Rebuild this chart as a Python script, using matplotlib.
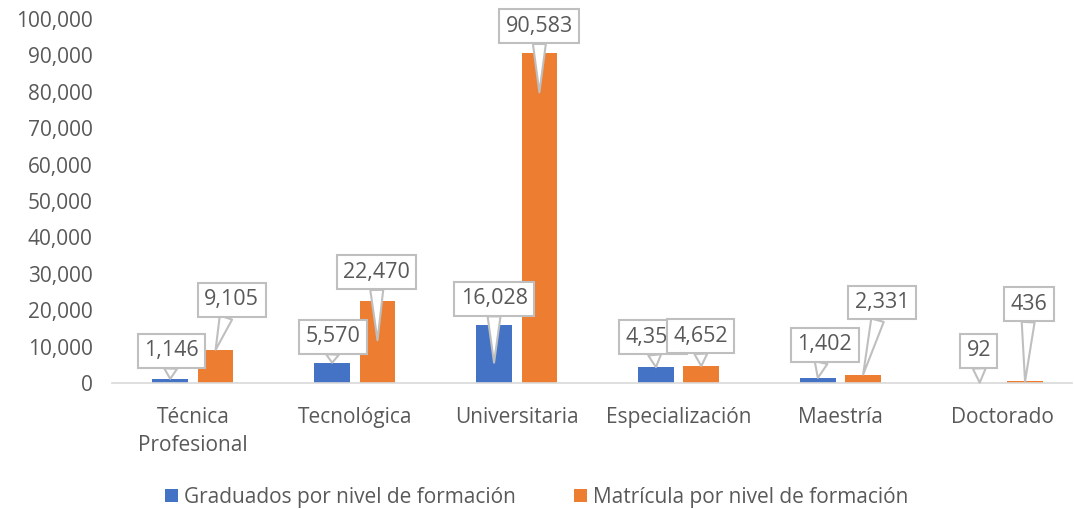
import matplotlib
matplotlib.use('Agg')
import matplotlib.pyplot as plt
import matplotlib.transforms as mtransforms
import numpy as np

plt.rcParams['font.family'] = ['Open Sans', 'DejaVu Sans']

categories = ['Técnica\nProfesional', 'Tecnológica', 'Universitaria',
              'Especialización', 'Maestría', 'Doctorado']
graduados = [1146, 5570, 16028, 4354, 1402, 92]
matricula = [9105, 22470, 90583, 4652, 2331, 436]
series_names = ['Graduados por nivel de formación', 'Matrícula por nivel de formación']

BLUE = '#4472c4'
ORANGE = '#ed7d31'
TEXT = '#595959'

# callout placement, pixels: (dx, dy) of text from tip, and how far the tip sits inside the bar
grad_offsets = [(1, 28), (1, 26), (0, 64), (-3, 30), (7, 33), (-1, 32)]
grad_drops = [0, 0, 38, 0, 0, 0]
mat_offsets = [(16, 50), (-1, 68), (0, 66), (-1, 30), (19, 72), (4, 77)]
mat_drops = [0, 39, 39, 0, 0, 0]

fig = plt.figure(figsize=(10.74, 5.09), dpi=100)
ax = fig.add_axes([112 / 1074, 0.2475, 960 / 1074, 0.7152])

x = np.arange(len(categories))
w = 0.22
off = 0.14
ax.bar(x - off, graduados, w, color=BLUE, label=series_names[0], zorder=2)
ax.bar(x + off, matricula, w, color=ORANGE, label=series_names[1], zorder=2)

ax.set_xlim(-0.5, 5.43)
ax.set_ylim(0, 100000)
ax.set_yticks(np.arange(0, 100001, 10000))
ax.set_yticklabels([f'{v:,}' for v in range(0, 100001, 10000)])
ax.set_xticks(x)
ax.set_xticklabels(categories, linespacing=1.45)
ax.tick_params(axis='y', length=0, pad=14, labelsize=15, labelcolor=TEXT)
ax.tick_params(axis='x', length=0, pad=17, labelsize=15, labelcolor=TEXT)
for s in ['top', 'right', 'left']:
    ax.spines[s].set_visible(False)
ax.spines['bottom'].set_color('#d9d9d9')
ax.spines['bottom'].set_linewidth(1.2)


def callout(xpos, val, offset, drop):
    tr = ax.transData + mtransforms.ScaledTranslation(0, -drop / 100, fig.dpi_scale_trans)
    ax.annotate(f'{val:,}', xy=(xpos, val), xycoords=tr,
                xytext=offset, textcoords='offset pixels',
                ha='center', va='center', fontsize=15.5, color=TEXT, zorder=5,
                bbox=dict(boxstyle='square,pad=0.3', fc='white', ec='#bfbfbf', lw=1.5),
                arrowprops=dict(arrowstyle='wedge,tail_width=0.6', fc='white',
                                ec='#bfbfbf', lw=1.5, relpos=(0.5, 0.5),
                                shrinkA=0, shrinkB=0))


for i in range(len(categories)):
    callout(x[i] - off, graduados[i], grad_offsets[i], grad_drops[i])
    callout(x[i] + off, matricula[i], mat_offsets[i], mat_drops[i])

fig.legend(loc='lower center', bbox_to_anchor=(0.5, -0.035), ncol=2, frameon=False,
           fontsize=15, labelcolor=TEXT, handlelength=0.6, handleheight=0.6,
           handletextpad=0.3, columnspacing=2.8)

fig.savefig('out.png', dpi=100, facecolor='white')
